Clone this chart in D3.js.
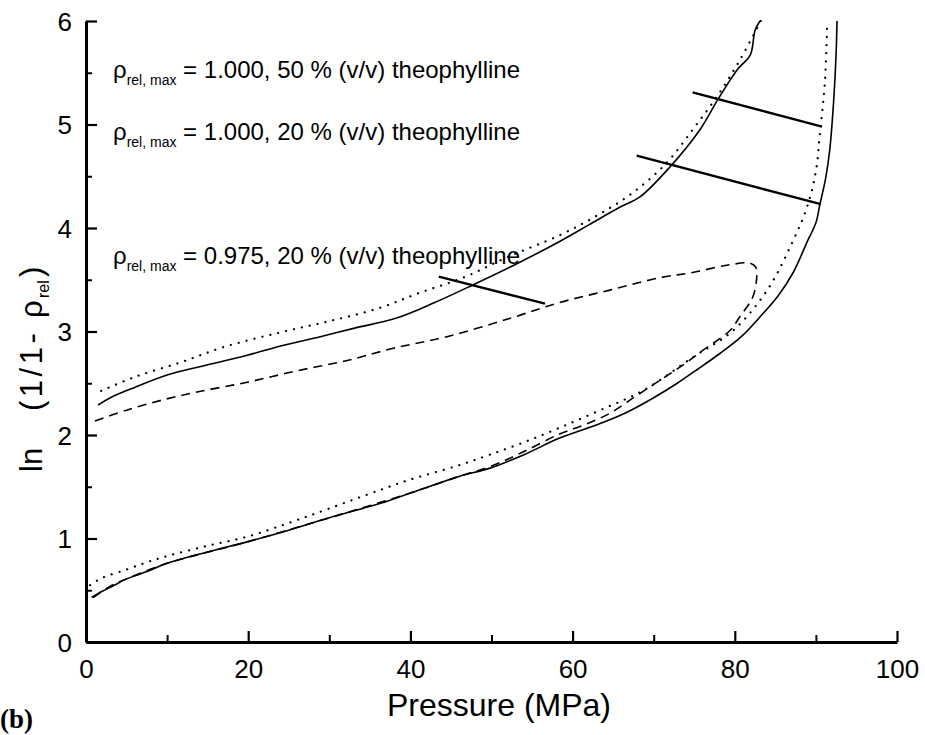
<!DOCTYPE html>
<html>
<head>
<meta charset="utf-8">
<script src="https://cdn.jsdelivr.net/npm/d3@7"></script>
<style>
  body { margin: 0; background: #fff; }
  svg { display: block; }
  text { fill: #000; }
</style>
</head>
<body>
<svg id="chart" width="925" height="735"></svg>
<script>
// ---------- data ----------
const xMajorTicks = [0, 20, 40, 60, 80, 100];
const xMinorTicks = [10, 30, 50, 70, 90];
const yMajorTicks = [0, 1, 2, 3, 4, 5, 6];
const yMinorTicks = [0.5, 1.5, 2.5, 3.5, 4.5, 5.5];

// solid: rho_rel,max = 1.000, 20 % (v/v) theophylline
const solidLowerP  = [0.7, 2, 3.3, 5, 7.5, 10, 15, 20, 25, 30, 36.3, 40, 46, 49.8, 54, 58.4, 63.4, 66.7, 70, 72.9, 75.5, 78.2, 80.8, 83.1, 85.3, 87.2, 89.0, 90.0, 90.5, 91.2, 91.7, 92.2, 92.5, 92.6];
const solidLowerLn = [0.43, 0.49, 0.54, 0.61, 0.68, 0.76, 0.87, 0.97, 1.08, 1.20, 1.34, 1.44, 1.60, 1.68, 1.81, 1.97, 2.11, 2.22, 2.36, 2.50, 2.64, 2.79, 2.95, 3.14, 3.34, 3.57, 3.88, 4.05, 4.23, 4.48, 4.75, 5.24, 5.70, 6.0];
const solidUpperP  = [83.1, 82.5, 81.9, 80.3, 77.9, 75.7, 72.0, 68.3, 65.8, 62, 58.4, 53, 47.7, 43, 38.3, 33, 28.9, 24, 19.9, 14, 10, 6, 3, 1.5];
const solidUpperLn = [6.0, 5.91, 5.67, 5.53, 5.24, 4.95, 4.59, 4.30, 4.20, 4.03, 3.87, 3.65, 3.45, 3.28, 3.13, 3.03, 2.95, 2.86, 2.77, 2.66, 2.58, 2.46, 2.36, 2.29];

// dotted: rho_rel,max = 1.000, 50 % (v/v) theophylline
const dottedLowerP  = [0.5, 2, 5, 7.5, 10, 15, 20, 25, 30, 36.3, 40, 46.1, 49.8, 54, 58.4, 63.4, 68.7, 74.8, 79.8, 84.0, 87.2, 88.9, 90.0, 90.5, 91.1, 91.4];
const dottedLowerLn = [0.55, 0.62, 0.70, 0.77, 0.83, 0.93, 1.02, 1.15, 1.29, 1.47, 1.57, 1.71, 1.81, 1.93, 2.07, 2.24, 2.43, 2.75, 3.01, 3.40, 3.88, 4.20, 4.55, 4.92, 5.40, 6.0];
const dottedUpperP  = [83.2, 80.6, 77.8, 74.8, 71.6, 67.4, 63, 58.4, 52, 46.5, 41, 36.3, 30, 23.9, 17, 11.6, 6, 1.4];
const dottedUpperLn = [6.0, 5.62, 5.27, 4.95, 4.63, 4.34, 4.12, 3.93, 3.72, 3.52, 3.37, 3.23, 3.10, 2.99, 2.85, 2.70, 2.56, 2.41];

// dashed: rho_rel,max = 0.975, 20 % (v/v) theophylline (full loop)
const dashedP  = [0.9, 3, 5, 10, 20, 30, 40, 46, 50, 54, 58.4, 61.5, 64.6, 67.7, 70.8, 73.5, 76.1, 79.4, 80.6, 82.2, 82.7, 82.6, 81.9, 79.0, 74.8, 70.8, 64.6, 58.4, 52, 44.5, 38, 32.2, 26, 19.9, 14, 9.5, 5, 0.9];
const dashedLn = [0.43, 0.54, 0.61, 0.76, 0.97, 1.20, 1.44, 1.60, 1.70, 1.84, 2.01, 2.10, 2.21, 2.37, 2.53, 2.67, 2.82, 3.01, 3.14, 3.33, 3.52, 3.62, 3.66, 3.64, 3.57, 3.52, 3.40, 3.28, 3.12, 2.95, 2.84, 2.72, 2.62, 2.51, 2.42, 2.34, 2.24, 2.13];

// indicator lines linking labels to curves
const pointerP  = [[74.8, 90.75], [67.9, 90.6], [43.5, 56.6]];
const pointerLn = [[5.31, 4.98], [4.70, 4.23], [3.53, 3.27]];

const labelValues = ["1.000, 50", "1.000, 20", "0.975, 20"];
const labelLn = [5.45, 4.85, 3.65];

// ---------- layout ----------
const svg = d3.select("#chart");
const mLeft = 86, mRight = 897, mTop = 21, mBottom = 642;
const x = d3.scaleLinear().domain([0, 100]).range([mLeft, mRight]);
const y = d3.scaleLinear().domain([0, 6]).range([mBottom, mTop]);

svg.append("defs").append("clipPath").attr("id", "plotClip")
  .append("rect").attr("x", mLeft).attr("y", mTop - 1).attr("width", mRight - mLeft + 2).attr("height", mBottom - mTop + 1);

const zip = (a, b) => a.map((v, i) => [v, b[i]]);
const line = d3.line().x(d => x(d[0])).y(d => y(d[1])).curve(d3.curveCatmullRom.alpha(0.5));

const g = svg.append("g").attr("clip-path", "url(#plotClip)");

function drawSeries(pts, dash, width, cap) {
  g.append("path").datum(pts)
    .attr("d", line)
    .attr("fill", "none")
    .attr("stroke", "#000")
    .attr("stroke-width", width)
    .attr("stroke-dasharray", dash)
    .attr("stroke-linecap", cap);
}

drawSeries(zip(solidLowerP, solidLowerLn), null, 1.6, "butt");
drawSeries(zip(solidUpperP, solidUpperLn), null, 1.6, "butt");
drawSeries(zip(dottedLowerP, dottedLowerLn), "0.1,8", 2.2, "round");
drawSeries(zip(dottedUpperP, dottedUpperLn), "0.1,8", 2.2, "round");
drawSeries(zip(dashedP, dashedLn), "9,6", 1.6, "butt");

pointerP.forEach((ps, i) => {
  svg.append("line")
    .attr("x1", x(ps[0])).attr("y1", y(pointerLn[i][0]))
    .attr("x2", x(ps[1])).attr("y2", y(pointerLn[i][1]))
    .attr("stroke", "#000").attr("stroke-width", 2.4);
});

// ---------- axes ----------
const axisFont = "'Liberation Sans', Arial, sans-serif";

const xAxis = svg.append("g").attr("transform", `translate(0,${mBottom})`)
  .call(d3.axisBottom(x).tickValues(xMajorTicks).tickSize(-11).tickSizeOuter(0).tickPadding(18).tickFormat(d3.format("d")));
const xMinor = svg.append("g").attr("transform", `translate(0,${mBottom})`)
  .call(d3.axisBottom(x).tickValues(xMinorTicks).tickSize(-7).tickSizeOuter(0).tickFormat(""));
xMinor.select(".domain").remove();

const yAxis = svg.append("g").attr("transform", `translate(${mLeft},0)`)
  .call(d3.axisLeft(y).tickValues(yMajorTicks).tickSize(-11).tickSizeOuter(0).tickPadding(14).tickFormat(d3.format("d")));
const yMinor = svg.append("g").attr("transform", `translate(${mLeft},0)`)
  .call(d3.axisLeft(y).tickValues(yMinorTicks).tickSize(-6).tickSizeOuter(0).tickFormat(""));
yMinor.select(".domain").remove();

[xAxis, yAxis].forEach(a => {
  a.select(".domain").attr("stroke", "#000").attr("stroke-width", 3);
  a.selectAll(".tick line").attr("stroke", "#000").attr("stroke-width", 2.2);
  a.selectAll(".tick text").attr("font-family", axisFont).attr("font-size", 26).attr("fill", "#000");
});
[xMinor, yMinor].forEach(a => a.selectAll(".tick line").attr("stroke", "#000").attr("stroke-width", 2));
xAxis.selectAll(".tick text").attr("dy", "0.71em");
yAxis.selectAll(".tick text").attr("dy", "0.36em");

// axis titles
svg.append("text")
  .attr("x", 499).attr("y", 716)
  .attr("text-anchor", "middle")
  .attr("font-family", axisFont).attr("font-size", 32)
  .text("Pressure (MPa)");

const yt = svg.append("text")
  .attr("transform", "translate(42,472) rotate(-90)")
  .attr("font-family", axisFont).attr("font-size", 31);
yt.append("tspan").attr("x", 0).text("ln");
yt.append("tspan").attr("x", 61).attr("letter-spacing", 3.5).text("(1/1-");
yt.append("tspan").attr("x", 154).text("ρ");
yt.append("tspan").attr("x", 174).attr("font-size", 16).attr("dy", 7).text("rel");
yt.append("tspan").attr("x", 195).attr("dy", -7).text(")");

svg.append("text")
  .attr("x", 0).attr("y", 728)
  .attr("font-family", "'Liberation Serif', 'Times New Roman', serif")
  .attr("font-weight", "bold").attr("font-size", 27)
  .text("(b)");

// series labels
labelValues.forEach((v, i) => {
  const t = svg.append("text")
    .attr("x", 113).attr("y", y(labelLn[i]))
    .attr("font-family", axisFont).attr("font-size", 24);
  t.append("tspan").text("ρ");
  t.append("tspan").attr("font-size", 14).attr("dy", 7).text("rel, max");
  t.append("tspan").attr("dy", -7).text(` = ${v} % (v/v) theophylline`);
});
</script>
</body>
</html>
